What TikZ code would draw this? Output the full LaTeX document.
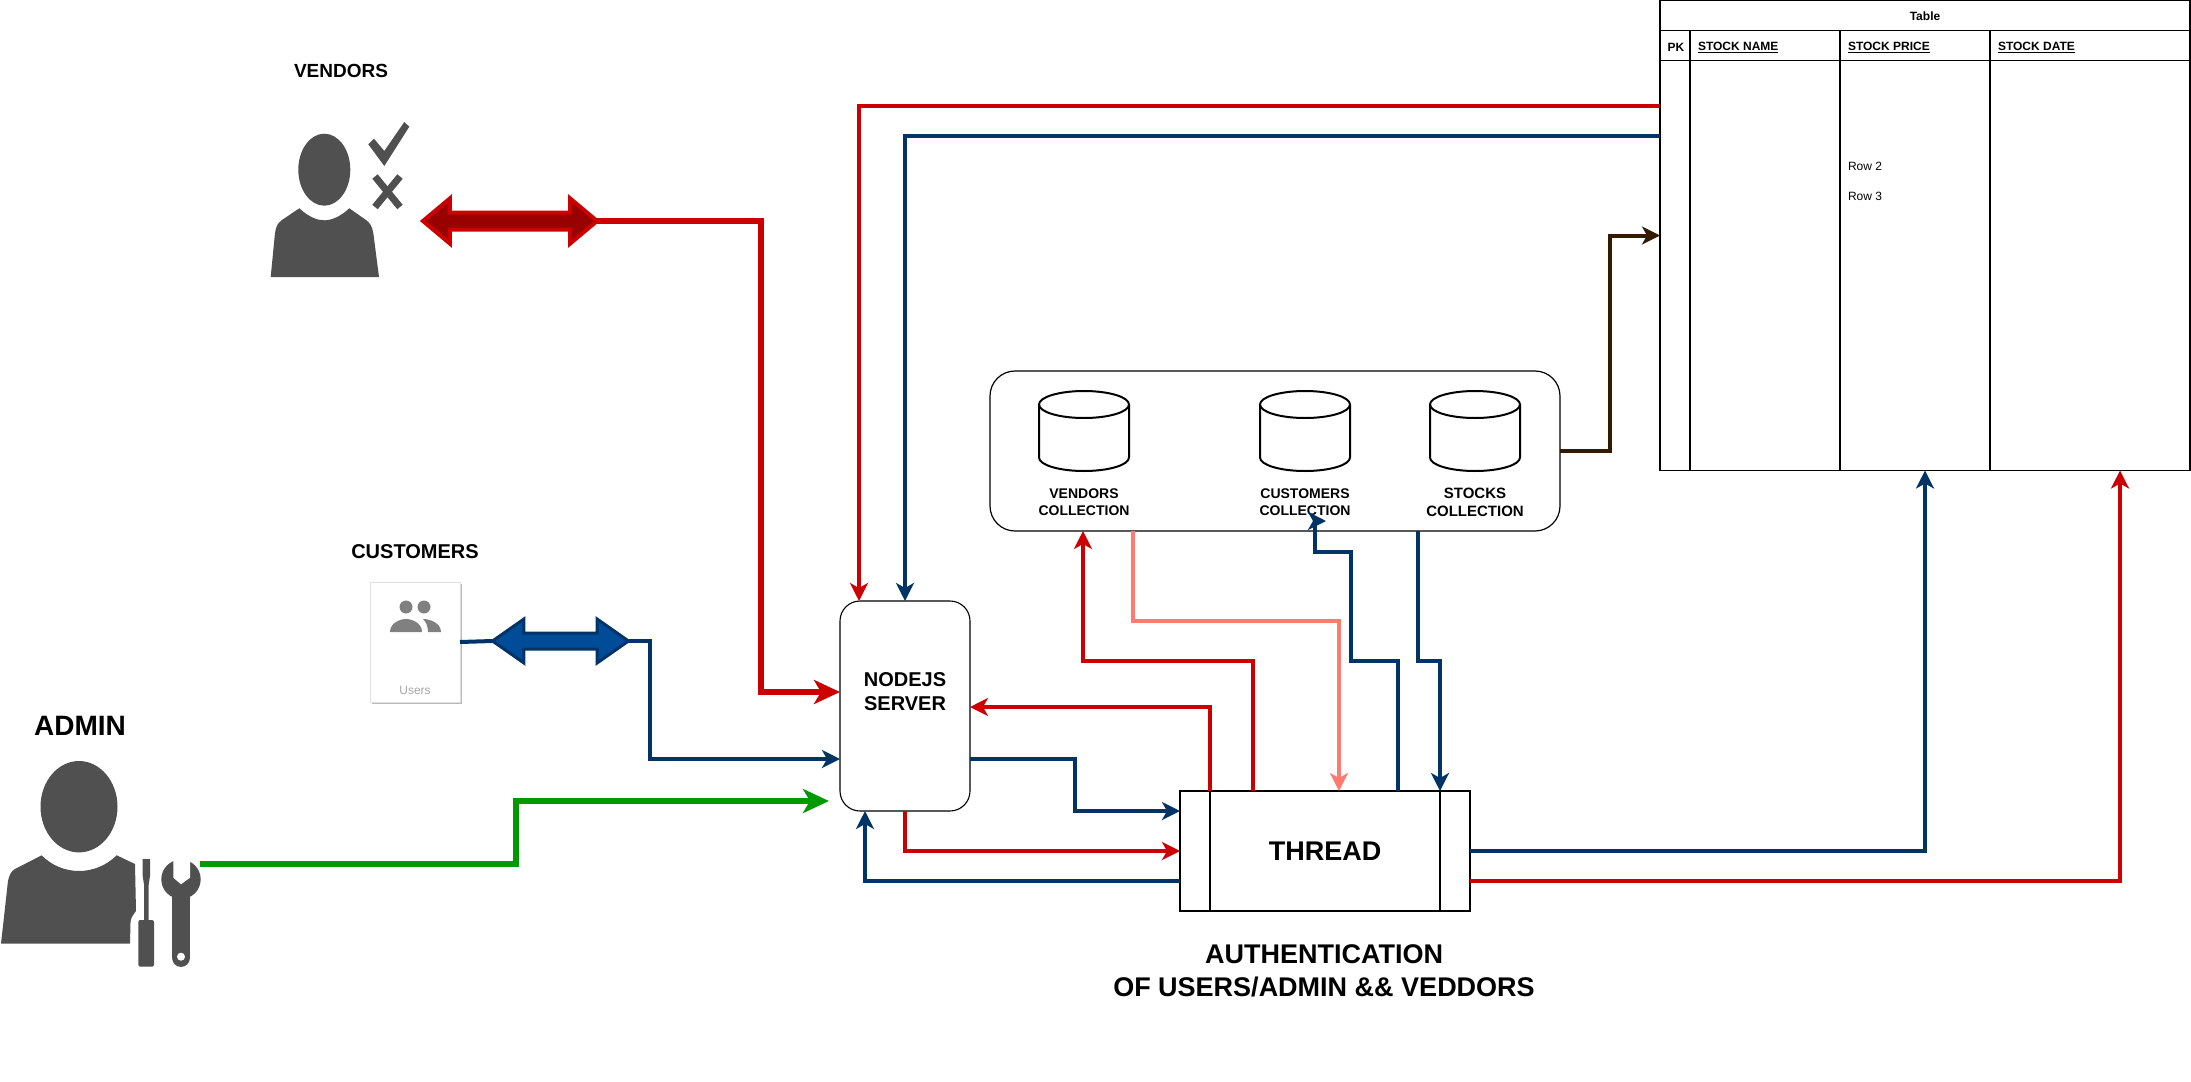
\documentclass[tikz,border=0pt]{standalone}
\usepackage{fontspec}
\setmainfont{Liberation Sans}
\usepackage{xcolor}
\usetikzlibrary{arrows.meta,shapes.arrows}
\definecolor{redline}{HTML}{CC0000}
\definecolor{redfill}{HTML}{990000}
\definecolor{blueline}{HTML}{003366}
\definecolor{bluefill}{HTML}{004C99}
\definecolor{salmonline}{HTML}{FF7A70}
\definecolor{greenline}{HTML}{009900}
\definecolor{brownline}{HTML}{331A00}
\definecolor{icongrey}{HTML}{505050}
\definecolor{usersgrey}{HTML}{808080}
\newcommand{\fsize}[1]{\fontsize{#1}{1.2\dimexpr #1pt\relax}\selectfont}

\begin{document}
\begin{tikzpicture}[x=1pt,y=1pt]
\tikzstyle{every node}+=[inner sep=0pt,outer sep=0pt]
\tikzstyle{flow}=[line width=4pt,-{Stealth[length=18pt,width=18pt,inset=5pt]}]
\tikzstyle{plain}=[line width=4pt]
\tikzstyle{bigflow}=[line width=6pt,-{Stealth[length=26pt,width=24pt,inset=7pt]}]
\tikzstyle{dbline}=[black,line width=2pt]
\tikzstyle{grid}=[black,line width=1.2pt]
\tikzstyle{dblabel}=[align=center,font=\fsize{14}\bfseries]
\tikzstyle{cell}=[anchor=west,font=\fsize{12}\bfseries]
\useasboundingbox (0,1) rectangle (2191,-1080);
\node [font=\fsize{19}\bfseries] (vendorslabel) at (341,-69.5) {VENDORS};
\node [font=\fsize{20}\bfseries] (customerslabel) at (415,-551) {CUSTOMERS};
\node [font=\fsize{28}\bfseries] (adminlabel) at (80,-725) {ADMIN};
\fill [icongrey] (324.3,-168.7) ellipse (26 and 36);
\fill [icongrey] (270.7,-276) -- (275,-232) .. controls (276,-225) and (278,-222) .. (282,-219) -- (299.3,-207.3) .. controls (310,-217) and (318,-219.3) .. (324.3,-219.3) .. controls (330,-219.3) and (339,-217) .. (349.3,-207.3) -- (366,-219) .. controls (370,-222) and (372,-225) .. (373.3,-232) -- (379,-276) -- cycle;
\fill [icongrey] (368.3,-143.3) -- (374,-137.7) -- (384.3,-150) -- (404.3,-121) -- (409.3,-125.7) -- (384.3,-165) -- cycle;
\draw [icongrey,line width=7pt] (375,-175.5) -- (400,-206);
\draw [icongrey,line width=7pt] (400,-175.5) -- (375,-206);
\fill [icongrey] (79,-805.7) ellipse (38.5 and 45.7);
\fill [icongrey] (1,-942.7) -- (8,-880) .. controls (9,-875) and (11,-870) .. (15,-868) -- (41.7,-854.3) .. controls (52,-865) and (66,-870) .. (79,-870) .. controls (92,-870) and (106,-865) .. (116.7,-854.3) -- (135,-863) -- (136,-910) .. controls (132,-915) and (130.5,-918) .. (130.5,-922) -- (130,-942.7) -- cycle;
\fill [icongrey] (142.7,-858) -- (150,-858) -- (150,-875) -- (148.5,-885) -- (148.5,-920) -- (144.2,-920) -- (144.2,-885) -- (142.7,-875) -- cycle;
\fill [icongrey,rounded corners=2pt] (138.3,-919) rectangle (154,-965.7);
\fill [icongrey] (181,-878.3) circle (19.7);
\fill [icongrey] (172.3,-880) rectangle (190,-957);
\fill [icongrey] (181,-957) circle (8.9);
\fill [white] (173.3,-855) -- (173.3,-876.7) -- (181,-883.3) -- (190,-876.7) -- (190,-855) -- cycle;
\fill [white] (181,-955.7) circle (4);
\node [draw=none,fill=black!27,minimum width=90pt,minimum height=120pt] (usersshadow) at (417,-643) {};
\node [draw=black!12,fill=white,line width=1pt,minimum width=90pt,minimum height=120pt] (usersbox) at (415,-641) {};
\fill [usersgrey] (406,-606) circle (6.5);
\fill [usersgrey] (424,-606) circle (6.5);
\fill [usersgrey] (390,-631) .. controls (390,-622) and (400,-618) .. (406,-618) .. controls (412,-618) and (422,-622) .. (422,-631) -- cycle;
\fill [usersgrey] (423,-618) .. controls (430,-618) and (441,-622) .. (441,-631) -- (428,-631) .. controls (428,-625) and (426,-621) .. (423,-618) -- cycle;
\node [text=black!35,font=\fsize{12}] (userstext) at (415,-689) {Users};
\node [draw=black,fill=white,rounded corners=20pt,line width=1.1pt,minimum width=130pt,minimum height=210pt] (server) at (905,-705) {};
\node [align=center,font=\fsize{20}\bfseries] (serverlabel) at (905,-691) {NODEJS\\SERVER};
\node [draw=black,fill=white,line width=1.2pt,minimum width=290pt,minimum height=120pt,font=\fsize{27}\bfseries] (thread) at (1325,-850) {THREAD};
\draw [grid] (1210,-790) -- (1210,-910);
\draw [grid] (1440,-790) -- (1440,-910);
\node [align=center,font=\fsize{27}\bfseries] (authlabel) at (1324,-970) {AUTHENTICATION\\OF USERS/ADMIN \&\& VEDDORS};
\node [draw=black,fill=white,rounded corners=25pt,line width=1.2pt,minimum width=570pt,minimum height=160pt] (dbgroup) at (1275,-450) {};
\draw [dbline] (1084,-403.5) ellipse (45 and 13.5);
\draw [dbline] (1039,-403.5) -- (1039,-456.5) arc (180:360:45 and 13.5) -- (1129,-403.5);
\draw [dbline] (1305,-403.5) ellipse (45 and 13.5);
\draw [dbline] (1260,-403.5) -- (1260,-456.5) arc (180:360:45 and 13.5) -- (1350,-403.5);
\draw [dbline] (1475,-403.5) ellipse (45 and 13.5);
\draw [dbline] (1430,-403.5) -- (1430,-456.5) arc (180:360:45 and 13.5) -- (1520,-403.5);
\node [dblabel] (vendorsdbtext) at (1084,-501) {VENDORS\\COLLECTION};
\node [dblabel] (customersdbtext) at (1305,-501) {CUSTOMERS\\COLLECTION};
\node [align=center,font=\fsize{15}\bfseries] (stocksdbtext) at (1475,-501) {STOCKS\\COLLECTION};
\node [draw=black,fill=white,line width=1.2pt,minimum width=530pt,minimum height=470pt] (stocktable) at (1925,-234.5) {};
\draw [grid] (1660,-29.5) -- (2190,-29.5);
\draw [grid] (1660,-59.5) -- (2190,-59.5);
\draw [grid] (1690,-29.5) -- (1690,-469.5);
\draw [grid] (1840,-29.5) -- (1840,-469.5);
\draw [grid] (1990,-29.5) -- (1990,-469.5);
\node [font=\fsize{12}\bfseries] (tabletitle) at (1925,-15.5) {Table};
\node [font=\fsize{12}\bfseries] (pkcell) at (1676,-46.5) {PK};
\node [cell] (namecell) at (1698,-46.5) {\underline{STOCK NAME}};
\node [cell] (pricecell) at (1848,-46.5) {\underline{STOCK PRICE}};
\node [cell] (datecell) at (1998,-46.5) {\underline{STOCK DATE}};
\node [anchor=west,font=\fsize{12}] (rowtwo) at (1848,-165.5) {Row 2};
\node [anchor=west,font=\fsize{12}] (rowthree) at (1848,-195.5) {Row 3};
\coordinate (greenstart) at (200,-863);
\coordinate (greenend) at (829,-800);
\coordinate (custdbport) at (1326,-520);
\draw [redline,flow] ([yshift=-105.5pt]stocktable.north west) -| ([xshift=-46pt]server.north);
\draw [blueline,flow] ([yshift=-135pt]stocktable.north west) -| (server.north);
\draw [brownline,flow] (dbgroup.east) -- (1610,-450) |- (stocktable.west);
\node [double arrow,draw=redline,fill=redfill,line width=4pt,minimum height=174pt,minimum width=42pt,inner ysep=6.5pt,double arrow head extend=14pt,double arrow tip angle=80] (vendorsarrow) at (510,-220) {};
\draw [redline,bigflow] (vendorsarrow.east) -- (761,-220) |- ([yshift=14pt]server.west);
\node [double arrow,draw=blueline,fill=bluefill,line width=3pt,minimum height=136pt,minimum width=42pt,inner ysep=6.5pt,double arrow head extend=14pt,double arrow tip angle=70] (customersarrow) at (560.5,-640) {};
\draw [blueline,plain] (usersbox.east) -- (customersarrow.west);
\draw [blueline,flow] (customersarrow.east) -- (650,-640) |- ([yshift=-53pt]server.west);
\draw [greenline,bigflow] (greenstart) -| (516,-800) -- (greenend);
\draw [redline,flow] ([xshift=-72pt]thread.north) -- (1253,-660) -| ([xshift=-192pt]dbgroup.south);
\draw [salmonline,flow] ([xshift=-142pt]dbgroup.south) -- (1133,-620) -| ([xshift=14pt]thread.north);
\draw [blueline,flow] ([xshift=73pt]thread.north) -- (1398,-660) -- (1351,-660) -- (1351,-551) -- (1315,-551) -- (1315,-520) -- (custdbport);
\draw [blueline,flow] ([xshift=143pt]dbgroup.south) -- (1418,-660) -- (1440,-660) -- ([xshift=115pt]thread.north);
\draw [redline,flow] ([xshift=-115pt]thread.north) |- ([yshift=-1pt]server.east);
\draw [blueline,flow] ([yshift=-53pt]server.east) -| (1075,-810) -- ([yshift=40pt]thread.west);
\draw [redline,flow] (server.south) |- (thread.west);
\draw [blueline,flow] ([yshift=-30pt]thread.west) -| ([xshift=-40pt]server.south);
\draw [blueline,flow] (thread.east) -| (stocktable.south);
\draw [redline,flow] ([yshift=-30pt]thread.east) -| ([xshift=195pt]stocktable.south);
\end{tikzpicture}
\end{document}
